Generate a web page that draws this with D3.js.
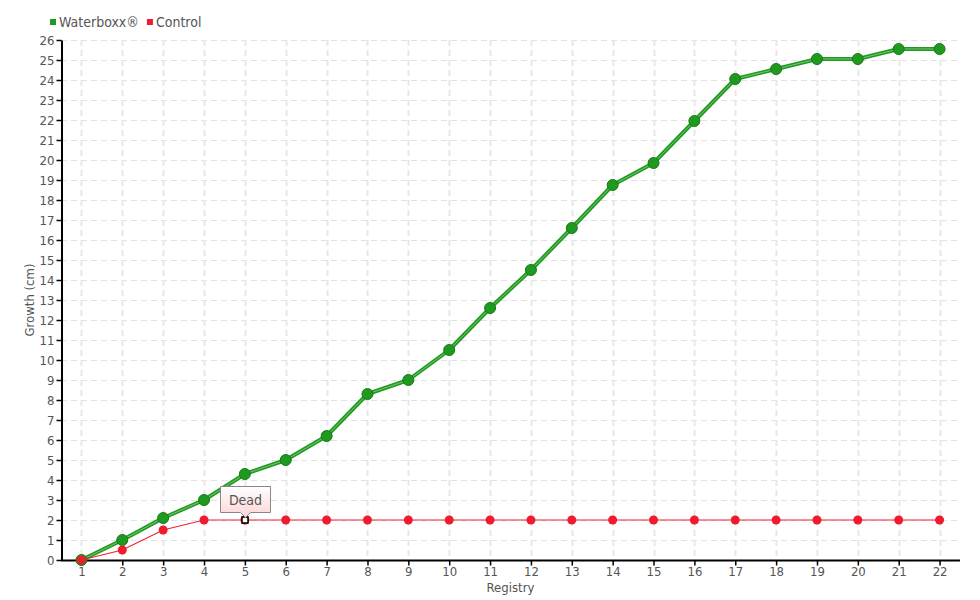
<!DOCTYPE html>
<html><head><meta charset="utf-8">
<script src="https://cdn.jsdelivr.net/npm/d3@7"></script>
<style>
body{margin:0;background:#fff;}
text{font-family:"DejaVu Sans Condensed","Liberation Sans Narrow","Roboto",sans-serif;}
</style></head>
<body><svg id="chart" width="980" height="600"></svg>
<script>
const categories = ["1","2","3","4","5","6","7","8","9","10","11","12","13","14","15","16","17","18","19","20","21","22"];
const waterboxx = [0,1,2.1,3,4.3,5,6.2,8.3,9,10.5,12.6,14.5,16.6,18.75,19.85,21.95,24.05,24.55,25.05,25.05,25.55,25.55];
const control = [0,0.5,1.5,2,2,2,2,2,2,2,2,2,2,2,2,2,2,2,2,2,2,2];
const yTicks = d3.range(0,27);
const seriesNames = ["Waterboxx®","Control"];
const annotation = {category:"5", label:"Dead"};

const svg = d3.select("#chart");
const m = {l:61, r:20, t:40, b:40};
const W = 980, H = 600;
const x = d3.scalePoint().domain(categories).range([m.l, W-m.r]).padding(0.5);
const y = d3.scaleLinear().domain([0,26]).range([H-m.b, m.t]);
const gray = "#555";
const fs = 13;

// grid
const grid = svg.append("g");
grid.selectAll("line.h").data(yTicks.slice(1)).join("line")
  .attr("x1", m.l).attr("x2", W-m.r).attr("y1", d=>y(d)+0.5).attr("y2", d=>y(d)+0.5)
  .attr("stroke","#e2e2e2").attr("stroke-dasharray","6,4");
grid.selectAll("line.v").data(categories).join("line")
  .attr("x1", d=>Math.round(x(d))+0.5).attr("x2", d=>Math.round(x(d))+0.5).attr("y1", m.t).attr("y2", H-m.b)
  .attr("stroke","#e8e8e8").attr("stroke-width",2).attr("stroke-dasharray","6,4");

// axes
const yAxis = svg.append("g").attr("transform",`translate(${m.l+0.5},0)`)
  .call(d3.axisLeft(y).tickValues(yTicks).tickSize(5).tickPadding(2).tickSizeOuter(0));
const xAxis = svg.append("g").attr("transform",`translate(0,${H-m.b+0.5})`)
  .call(d3.axisBottom(x).tickSize(5).tickPadding(1).tickSizeOuter(0));
[yAxis,xAxis].forEach(a=>{
  a.select(".domain").attr("stroke","#000").attr("stroke-width",2);
  a.selectAll(".tick line").attr("stroke","#000").attr("stroke-width",1.5);
  a.selectAll("text").attr("fill",gray).attr("font-size",fs).attr("font-family","DejaVu Sans Condensed, sans-serif");
});
xAxis.select(".domain").attr("d",`M${m.l},0H${W-m.r}`);

svg.append("text").attr("transform",`translate(34,${(m.t+H-m.b)/2}) rotate(-90)`)
  .attr("text-anchor","middle").attr("fill",gray).attr("font-size",fs).text("Growth (cm)");
svg.append("text").attr("x",(m.l+W-m.r)/2).attr("y",592)
  .attr("text-anchor","middle").attr("fill",gray).attr("font-size",fs).text("Registry");

// green series
const line = d3.line().x((d,i)=>x(categories[i])).y(d=>y(d));
svg.append("path").datum(waterboxx).attr("d",line).attr("fill","none")
  .attr("stroke","#1f9a1f").attr("stroke-width",4).attr("stroke-linejoin","round");
svg.append("path").datum(waterboxx).attr("d",line).attr("fill","none")
  .attr("stroke","rgba(190,235,190,0.55)").attr("stroke-width",1);
svg.append("g").selectAll("circle").data(waterboxx).join("circle")
  .attr("cx",(d,i)=>x(categories[i])).attr("cy",d=>y(d)).attr("r",5.5)
  .attr("fill","#1f9a1f").attr("stroke","#177a17").attr("stroke-width",1);

// red series
svg.append("path").datum(control).attr("d",line).attr("fill","none")
  .attr("stroke","#ee2233").attr("stroke-width",1.2);
svg.append("g").selectAll("circle").data(control).join("circle")
  .attr("cx",(d,i)=>x(categories[i])).attr("cy",d=>y(d)).attr("r",4.5)
  .attr("fill","#ee1c2e");

// annotation
const ai = categories.indexOf(annotation.category);
const ax = x(annotation.category), ay = y(control[ai]);
svg.append("rect").attr("x",Math.round(ax)-3).attr("y",Math.round(ay)-3).attr("width",6).attr("height",6)
  .attr("fill","#fff").attr("stroke","#000").attr("stroke-width",1.5);
const defs = svg.append("defs");
const gr = defs.append("linearGradient").attr("id","tipg").attr("x1",0).attr("x2",0).attr("y1",0).attr("y2",1);
gr.append("stop").attr("offset","0%").attr("stop-color","#ffffff");
gr.append("stop").attr("offset","100%").attr("stop-color","#fcd4d4");
const bw=50, bh=26, bx=Math.round(ax)-25+0.5, by=Math.round(ay)-34+0.5;
svg.append("path")
  .attr("d",`M${bx},${by}H${bx+bw}V${by+bh}H${bx+bw/2+5}L${bx+bw/2},${by+bh+5}L${bx+bw/2-5},${by+bh}H${bx}Z`)
  .attr("fill","url(#tipg)").attr("stroke","#888").attr("stroke-width",1);
svg.append("text").attr("x",bx+bw/2).attr("y",by+18).attr("text-anchor","middle")
  .attr("fill",gray).attr("font-size",14).text(annotation.label);

// legend
const legColors = ["#1f9a1f","#ee1c2e"];
const leg = svg.append("g").attr("transform","translate(50,22)");
let lx = 0;
seriesNames.forEach((n,i)=>{
  leg.append("rect").attr("x",lx).attr("y",-3).attr("width",6).attr("height",6).attr("fill",legColors[i]);
  const t = leg.append("text").attr("x",lx+9).attr("y",5).attr("fill",gray).attr("font-size",14).text(n);
  lx += 9 + t.node().getComputedTextLength() + 8;
});
</script></body></html>
